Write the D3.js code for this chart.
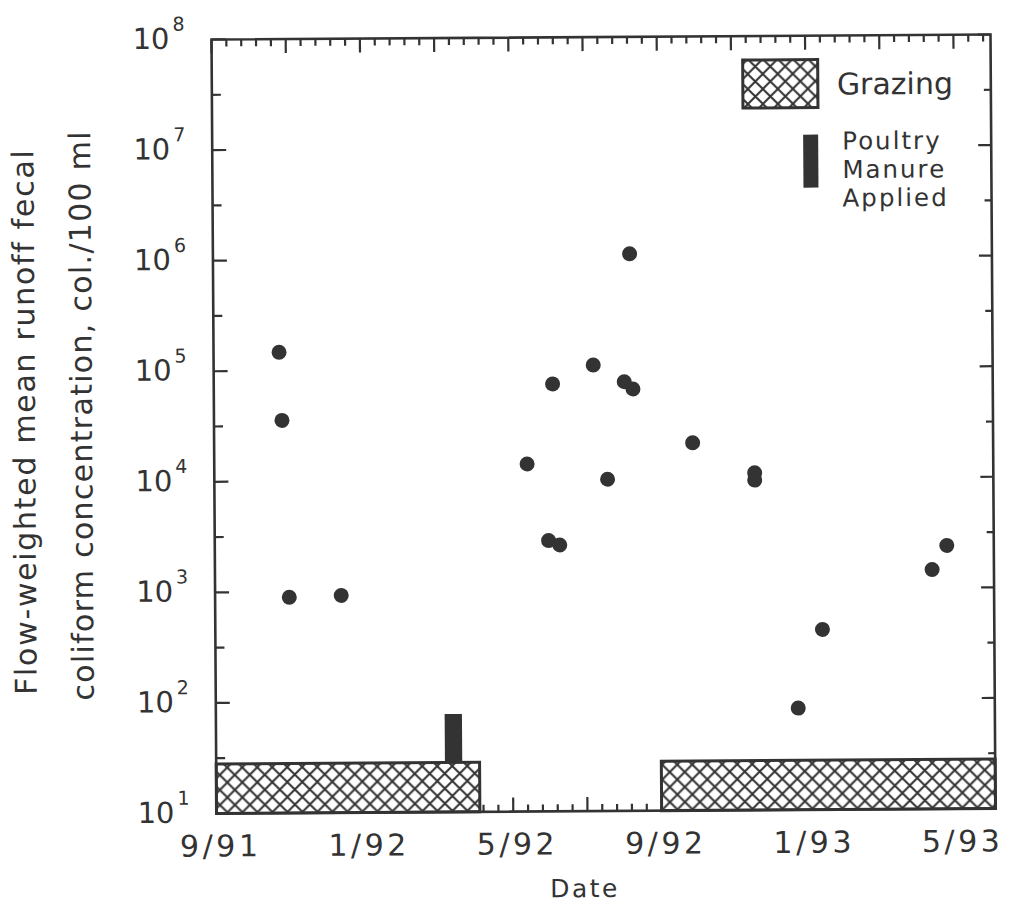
<!DOCTYPE html>
<html>
<head>
<meta charset="utf-8">
<script src="https://cdn.jsdelivr.net/npm/d3@7"></script>
<style>
  html, body { margin: 0; padding: 0; background: #fff; }
  svg { display: block; }
  text { font-family: "DejaVu Sans", sans-serif; fill: #333; }
</style>
</head>
<body>
<svg id="chart" width="1011" height="919"></svg>
<script>
// ---- data (x in days since 1 Sep 1991) ----
const sampleDay = [53, 55, 60, 102, 253, 270, 274, 279, 307, 318, 332, 337, 339, 387, 437, 437, 471, 491, 580, 592];
const fecalColiform = [147000, 35600, 893, 923, 13900, 2810, 73300, 2560, 108000, 10000, 76000, 1090000, 65300, 21100, 11200, 9630, 83, 426, 1460, 2410];
const grazingStart = [0, 360];
const grazingEnd = [213, 630];
const grazingTop = 28;
const manureDay = [192];
const manureTop = 77;
const xTickDays = [0, 120, 240, 360, 480, 600];
const xTickLabels = ["9/91", "1/92", "5/92", "9/92", "1/93", "5/93"];
const yExponents = [1, 2, 3, 4, 5, 6, 7, 8];
const legendManureLines = ["Poultry", "Manure", "Applied"];

const ink = "#333";
const svg = d3.select("#chart");
svg.append("rect").attr("width", 1011).attr("height", 919).attr("fill", "#fff");

// hatch pattern
const defs = svg.append("defs");
const pat = defs.append("pattern").attr("id", "hatch").attr("patternUnits", "userSpaceOnUse")
  .attr("width", 15).attr("height", 15);
pat.append("rect").attr("width", 15).attr("height", 15).attr("fill", "#fff");
pat.append("path").attr("d", "M-2,-2L17,17M17,-2L-2,17").attr("stroke", ink).attr("stroke-width", 2);

const g = svg.append("g").attr("transform", "rotate(-0.37,603,424)");

const L = 214, R = 993, T = 37, B = 811;
const x = d3.scaleLinear().domain([0, 630]).range([L, R]);
const y = d3.scaleLog().domain([10, 1e8]).range([B, T]);

// y ticks (decades + half decades) on both sides
const decades = yExponents.map(e => Math.pow(10, e));
const halves = yExponents.slice(0, -1).map(e => Math.pow(10, e + 0.5));
const tickG = g.append("g").attr("stroke", ink).attr("stroke-width", 2.2);
decades.forEach(v => {
  tickG.append("line").attr("x1", L).attr("x2", L + 14).attr("y1", y(v)).attr("y2", y(v));
  tickG.append("line").attr("x1", R).attr("x2", R - 13).attr("y1", y(v)).attr("y2", y(v));
});
halves.forEach(v => {
  tickG.append("line").attr("x1", L).attr("x2", L + 9).attr("y1", y(v)).attr("y2", y(v));
  tickG.append("line").attr("x1", R).attr("x2", R - 7).attr("y1", y(v)).attr("y2", y(v));
});
// x ticks top & bottom
d3.range(0, 631, 12).forEach(d => {
  const major = d % 60 === 0;
  const len = major ? 14 : 7;
  tickG.append("line").attr("x1", x(d)).attr("x2", x(d)).attr("y1", T).attr("y2", T + len);
  tickG.append("line").attr("x1", x(d)).attr("x2", x(d)).attr("y1", B).attr("y2", B - len);
});

// grazing bars
g.selectAll("rect.graze").data(grazingStart).enter().append("rect")
  .attr("class", "graze")
  .attr("x", (d) => x(d))
  .attr("width", (d, i) => x(grazingEnd[i]) - x(d))
  .attr("y", y(grazingTop))
  .attr("height", y(10) - y(grazingTop))
  .attr("fill", "url(#hatch)").attr("stroke", ink).attr("stroke-width", 3);

// manure bar
const manureW = 14;
g.selectAll("rect.manure").data(manureDay).enter().append("rect")
  .attr("x", d => x(d - manureW / 2))
  .attr("width", x(manureW) - x(0))
  .attr("y", y(manureTop))
  .attr("height", y(grazingTop) - y(manureTop))
  .attr("fill", ink);

// frame
g.append("rect").attr("x", L).attr("y", T).attr("width", R - L).attr("height", B - T)
  .attr("fill", "none").attr("stroke", ink).attr("stroke-width", 2.6);

// points
g.selectAll("circle.pt").data(sampleDay).enter().append("circle")
  .attr("cx", d => x(d))
  .attr("cy", (d, i) => y(fecalColiform[i]))
  .attr("r", 7.5).attr("fill", ink);

// y labels
yExponents.forEach(e => {
  const yy = y(Math.pow(10, e));
  g.append("text").attr("x", 172).attr("y", yy + 9).attr("text-anchor", "end")
    .attr("font-size", 29).text("10");
  g.append("text").attr("x", 175).attr("y", yy - 9).attr("font-size", 19).text(e);
});

// x labels
xTickDays.forEach((d, i) => {
  g.append("text").attr("x", x(d) + 4).attr("y", 854).attr("text-anchor", "middle")
    .attr("font-size", 30).attr("letter-spacing", 3.5).text(xTickLabels[i]);
});

// axis titles
g.append("text").attr("x", 582).attr("y", 897).attr("text-anchor", "middle")
  .attr("font-size", 25).attr("letter-spacing", 2.5).text("Date");
g.append("text").attr("transform", "translate(35,418) rotate(-90)").attr("text-anchor", "middle")
  .attr("font-size", 30).attr("letter-spacing", 1.7).text("Flow-weighted mean runoff fecal");
g.append("text").attr("transform", "translate(92,412) rotate(-90)").attr("text-anchor", "middle")
  .attr("font-size", 30).attr("letter-spacing", 1.3).text("coliform concentration, col./100 ml");

// legend
g.append("rect").attr("x", 745).attr("y", 61).attr("width", 75).attr("height", 48)
  .attr("fill", "url(#hatch)").attr("stroke", ink).attr("stroke-width", 3);
g.append("text").attr("x", 839).attr("y", 96).attr("font-size", 30).text("Grazing");
g.append("rect").attr("x", 805).attr("y", 136).attr("width", 15).attr("height", 53).attr("fill", ink);
legendManureLines.forEach((t, i) => {
  g.append("text").attr("x", 844).attr("y", 151 + i * 28.5).attr("font-size", 24.5)
    .attr("letter-spacing", 2).text(t);
});
</script>
</body>
</html>
